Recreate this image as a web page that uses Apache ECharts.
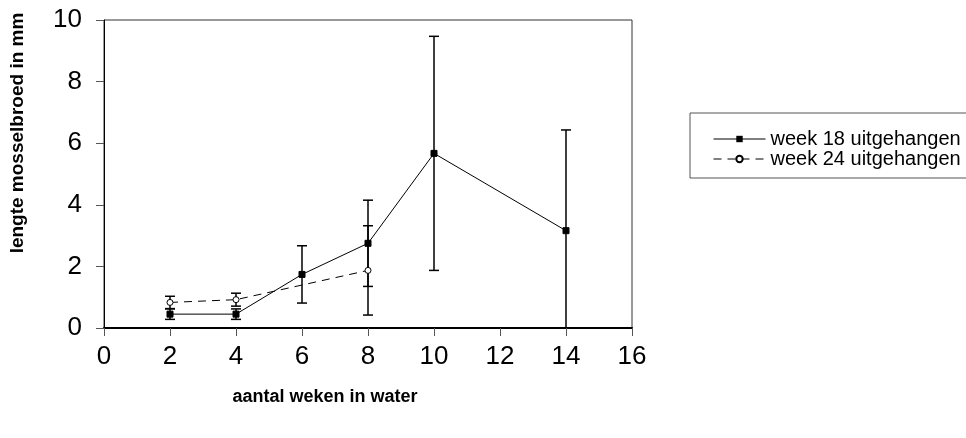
<!DOCTYPE html>
<html>
<head>
<meta charset="utf-8">
<script src="https://cdn.jsdelivr.net/npm/echarts@6/dist/echarts.min.js"></script>
<style>
  html, body { margin: 0; padding: 0; background: #fff; }
  #grafiek { width: 966px; height: 438px; }
</style>
</head>
<body>
<div id="grafiek"></div>
<script>
// gegevens
var weken18 = [2, 4, 6, 8, 10, 14];
var lengte18 = [0.45, 0.45, 1.74, 2.75, 5.67, 3.16];
var fout18 = [0.17, 0.17, 0.93, 1.4, 3.8, 3.27];

var weken24 = [2, 4, 8];
var lengte24 = [0.83, 0.92, 1.87];
var fout24 = [0.2, 0.21, 1.45];

var naam18 = 'week 18 uitgehangen';
var naam24 = 'week 24 uitgehangen';

var lettertype = 'Liberation Sans, Arial, sans-serif';

function punten(x, y) {
    return x.map(function (w, i) { return [w, y[i]]; });
}

function foutData(x, y, f) {
    return x.map(function (w, i) { return [w, y[i] - f[i], y[i] + f[i]]; });
}

// foutbalk tekenen met de schaal van de assen
function tekenFout(params, api) {
    var laag = api.coord([api.value(0), api.value(1)]);
    var hoog = api.coord([api.value(0), api.value(2)]);
    var half = 5;
    var stijl = { stroke: '#000', lineWidth: 1.5 };
    return {
        type: 'group',
        children: [
            { type: 'line', shape: { x1: hoog[0], y1: hoog[1], x2: laag[0], y2: laag[1] }, style: stijl },
            { type: 'line', shape: { x1: hoog[0] - half, y1: hoog[1], x2: hoog[0] + half, y2: hoog[1] }, style: stijl },
            { type: 'line', shape: { x1: laag[0] - half, y1: laag[1], x2: laag[0] + half, y2: laag[1] }, style: stijl }
        ]
    };
}

var grafiek = echarts.init(document.getElementById('grafiek'));

var optie = {
    animation: false,
    textStyle: { fontFamily: lettertype, color: '#000' },
    grid: {
        left: 104, right: 334, top: 20, bottom: 110,
        show: true, borderColor: '#333', borderWidth: 1
    },
    legend: {
        left: 708, top: 124, orient: 'vertical',
        itemWidth: 52, itemHeight: 8, itemGap: 0,
        lineStyle: { width: 1 },
        textStyle: { fontSize: 20, lineHeight: 19, fontFamily: lettertype, color: '#000' },
        data: [naam18, naam24]
    },
    graphic: [
        {
            type: 'rect',
            shape: { x: 690, y: 113, width: 290, height: 65 },
            style: { fill: 'none', stroke: '#555', lineWidth: 1 }
        },
        {
            type: 'text', x: 18, y: 133, rotation: Math.PI / 2,
            style: {
                text: 'lengte mosselbroed in mm',
                font: 'bold 19px ' + lettertype, fill: '#000',
                align: 'center', verticalAlign: 'middle'
            }
        }
    ],
    xAxis: {
        type: 'value', min: 0, max: 16, interval: 2,
        name: 'aantal weken in water', nameLocation: 'middle', nameGap: 60,
        nameTextStyle: { fontSize: 18, fontWeight: 'bold', color: '#000', padding: [0, 86, 0, 0] },
        axisLine: { onZero: false, lineStyle: { color: '#000', width: 2 } },
        axisTick: { length: 8, lineStyle: { color: '#555' } },
        axisLabel: { fontSize: 26, color: '#000', margin: 16 },
        splitLine: { show: false }
    },
    yAxis: {
        type: 'value', min: 0, max: 10, interval: 2,
        axisLine: { show: true, lineStyle: { color: '#000', width: 1 } },
        axisTick: { show: true, length: 8, lineStyle: { color: '#555' } },
        axisLabel: { fontSize: 26, color: '#000', margin: 22 },
        splitLine: { show: false }
    },
    series: [
        {
            name: naam18, type: 'line', data: punten(weken18, lengte18),
            symbol: 'rect', symbolSize: 6,
            lineStyle: { color: '#000', width: 1 },
            itemStyle: { color: '#000', borderColor: '#000' },
            z: 3
        },
        {
            name: naam24, type: 'line', data: punten(weken24, lengte24),
            symbol: 'circle', symbolSize: 6,
            lineStyle: { color: '#000', width: 1, type: [8, 6] },
            itemStyle: { color: '#fff', borderColor: '#000', borderWidth: 1 },
            z: 3
        },
        {
            type: 'custom', renderItem: tekenFout, clip: true,
            data: foutData(weken18, lengte18, fout18), z: 2
        },
        {
            type: 'custom', renderItem: tekenFout, clip: true,
            data: foutData(weken24, lengte24, fout24), z: 2
        }
    ]
};

grafiek.setOption(optie);
</script>
</body>
</html>
